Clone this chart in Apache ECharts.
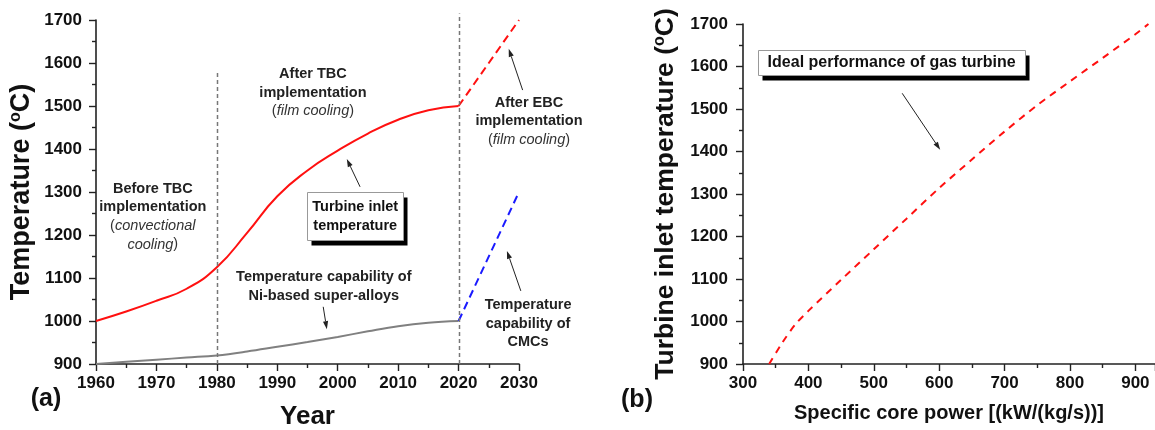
<!DOCTYPE html>
<html>
<head>
<meta charset="utf-8">
<script src="https://cdn.jsdelivr.net/npm/echarts@6/dist/echarts.min.js"></script>
<style>
  html, body { margin: 0; padding: 0; background: #fff; }
  #chart { width: 1155px; height: 430px; }
</style>
</head>
<body>
<div id="chart"></div>
<script>
// ---- Panel (a): turbine inlet temperature and material capability by year ----
const years = [1960, 1965, 1970, 1975, 1980, 1985, 1990, 1995, 2000, 2005, 2010, 2015, 2020];
const inletTemp = [1000, 1022, 1047, 1075, 1125, 1205, 1290, 1350, 1396, 1436, 1468, 1490, 1500];
const alloyTemp = [900, 905, 910, 915, 920, 929, 940, 951, 963, 976, 988, 996, 1000];
const outlookYears = [2020, 2030];
const inletTempEBC = [1500, 1700];
const cmcTemp = [1000, 1300];
// era boundaries (year, top of the dashed divider)
const eraYears = [1980, 2020];
const eraTop = [1580, 1715];

// ---- Panel (b): ideal turbine inlet temperature vs specific core power ----
const corePower = [340, 360, 380, 400, 450, 500, 550, 600, 650, 700, 750, 800, 850, 900, 920];
const idealTemp = [900, 950, 993, 1025, 1098, 1170, 1242, 1314, 1381, 1447, 1509, 1565, 1620, 1676, 1700];

// axis ranges: [min, max, step]
const yearRange = [1960, 2030, 10];
const tempRangeA = [900, 1700, 100];
const powerRange = [300, 930, 100];
const tempRangeB = [900, 1700, 100];

const FONT = '"Liberation Sans", Arial, sans-serif';
const INK = '#111';

const zip = (xs, ys) => xs.map((x, i) => [x, ys[i]]);

function axisBase(range, labelMargin) {
  return {
    type: 'value',
    min: range[0], max: range[1], interval: range[2],
    axisLine: { show: true, onZero: false, lineStyle: { color: '#222', width: 1.6 } },
    axisTick: { show: true, inside: false, length: 7, lineStyle: { color: '#222', width: 1.4 } },
    minorTick: { show: true, splitNumber: 2, length: 4, lineStyle: { color: '#222', width: 1.4 } },
    splitLine: { show: false },
    minorSplitLine: { show: false },
    axisLabel: {
      margin: labelMargin, color: INK, fontSize: 17, fontWeight: 'bold', fontFamily: FONT,
      formatter: v => (v % range[2] === 0 ? String(v) : '')
    }
  };
}

function nameStyle(size) {
  return {
    fontSize: size, fontWeight: 'bold', color: INK, fontFamily: FONT,
    rich: { s: { fontSize: Math.round(size * 0.6), fontWeight: 'bold', color: INK, fontFamily: FONT, verticalAlign: 'top' } }
  };
}

// annotation arrows in data coordinates: [from, to]
const arrowsA = [
  [[2030.6, 1537], [2028.3, 1633]],   // after EBC
  [[2003.7, 1312], [2001.5, 1377]],   // turbine inlet temperature
  [[1997.6, 1033], [1998.2, 981]],    // Ni-based super-alloys
  [[2030.3, 1070], [2028.0, 1163]]    // CMCs
];
const arrowsB = [
  [[543.4, 1537], [601.5, 1404]]      // ideal performance
];

const chart = echarts.init(document.getElementById('chart'), null, { renderer: 'canvas' });

const option = {
  backgroundColor: '#fff',
  animation: false,
  grid: [
    { left: 96, top: 20, width: 423, height: 344, containLabel: false, outerBoundsMode: 'none' },
    { left: 743, top: 24, width: 412, height: 340, containLabel: false, outerBoundsMode: 'none' }
  ],
  xAxis: [
    Object.assign(axisBase(yearRange, 11), {
      gridIndex: 0, name: 'Year', nameLocation: 'middle', nameGap: 40, nameTextStyle: nameStyle(26)
    }),
    Object.assign(axisBase(powerRange, 11), {
      gridIndex: 1, name: 'Specific core power [(kW/(kg/s))]', nameLocation: 'middle', nameGap: 39,
      nameTextStyle: nameStyle(20)
    })
  ],
  yAxis: [
    Object.assign(axisBase(tempRangeA, 14), {
      gridIndex: 0, name: 'Temperature ({s|o}C)', nameLocation: 'middle', nameGap: 61, nameTextStyle: nameStyle(27)
    }),
    Object.assign(axisBase(tempRangeB, 15), {
      gridIndex: 1, name: 'Turbine inlet temperature ({s|o}C)', nameLocation: 'middle', nameGap: 64,
      nameTextStyle: nameStyle(26.5)
    })
  ],
  series: [
    {
      name: 'Turbine inlet temperature', type: 'line', xAxisIndex: 0, yAxisIndex: 0,
      data: zip(years, inletTemp), smooth: 0.5, showSymbol: false,
      lineStyle: { color: '#ff1010', width: 2 }
    },
    {
      name: 'Ni-based super-alloys', type: 'line', xAxisIndex: 0, yAxisIndex: 0,
      data: zip(years, alloyTemp), smooth: 0.4, showSymbol: false,
      lineStyle: { color: '#808080', width: 2 }
    },
    {
      name: 'After EBC', type: 'line', xAxisIndex: 0, yAxisIndex: 0,
      data: zip(outlookYears, inletTempEBC), showSymbol: false,
      lineStyle: { color: '#ff1010', width: 2, type: [8, 5] }
    },
    {
      name: 'CMCs', type: 'line', xAxisIndex: 0, yAxisIndex: 0,
      data: zip(outlookYears, cmcTemp), showSymbol: false,
      lineStyle: { color: '#1a1aff', width: 2, type: [8, 5] }
    },
    {
      name: 'Ideal performance of gas turbine', type: 'line', xAxisIndex: 1, yAxisIndex: 1,
      data: zip(corePower, idealTemp), smooth: 0.3, showSymbol: false,
      lineStyle: { color: '#ff1010', width: 2, type: [7, 6] }
    }
  ]
};

chart.setOption(option);

// ---- overlays: dividers, arrows and text, anchored in data coordinates ----
const toPx = (grid, p) => chart.convertToPixel({ gridIndex: grid }, p);
const graphics = [];

// dashed era dividers
eraYears.forEach((yr, i) => {
  const a = toPx(0, [yr, tempRangeA[0]]);
  const b = toPx(0, [yr, eraTop[i]]);
  graphics.push({
    type: 'line', silent: true, z: 5,
    shape: { x1: Math.round(a[0]) + 0.5, y1: a[1], x2: Math.round(b[0]) + 0.5, y2: b[1] },
    style: { stroke: '#777', lineWidth: 1.5, lineDash: [4, 3] }
  });
});

function pushArrow(grid, from, to) {
  const a = toPx(grid, from), b = toPx(grid, to);
  const dx = b[0] - a[0], dy = b[1] - a[1];
  const len = Math.hypot(dx, dy), ux = dx / len, uy = dy / len;
  const L = 8, W = 2.6;
  const bx = b[0] - ux * L, by = b[1] - uy * L;
  graphics.push({
    type: 'line', silent: true, z: 6,
    shape: { x1: a[0], y1: a[1], x2: bx, y2: by },
    style: { stroke: '#222', lineWidth: 1 }
  });
  graphics.push({
    type: 'polygon', silent: true, z: 6,
    shape: { points: [[b[0], b[1]], [bx - uy * W, by + ux * W], [bx + uy * W, by - ux * W]] },
    style: { fill: '#222' }
  });
}
arrowsA.forEach(([f, t]) => pushArrow(0, f, t));
arrowsB.forEach(([f, t]) => pushArrow(1, f, t));

const RICH = {
  b: { fontSize: 14.5, fontWeight: 'bold', fill: '#222', fontFamily: FONT },
  i: { fontSize: 14.5, fontStyle: 'italic', fill: '#333', fontFamily: FONT },
  p: { fontSize: 14.5, fill: '#333', fontFamily: FONT }
};
const LINE_H = 18.5;

const notesA = [
  { at: [1969.4, 1307], lines: ['{b|Before TBC}', '{b|implementation}', '{p|(}{i|convectional}', '{i|cooling}{p|)}'] },
  { at: [1995.9, 1574], lines: ['{b|After TBC}', '{b|implementation}', '{p|(}{i|film cooling}{p|)}'] },
  { at: [2031.65, 1507], lines: ['{b|After EBC}', '{b|implementation}', '{p|(}{i|film cooling}{p|)}'] },
  { at: [1997.7, 1102], lines: ['{b|Temperature capability of}', '{b|Ni-based super-alloys}'] },
  { at: [2031.5, 1037], lines: ['{b|Temperature}', '{b|capability of}', '{b|CMCs}'] }
];

// boxed labels with a drop shadow: center in data coords, size in px
const boxes = [
  { grid: 0, at: [2002.9, 1244], w: 96, h: 48, lines: ['Turbine inlet', 'temperature'], size: 14.5, lh: 19 },
  { grid: 1, at: [527.3, 1609], w: 267, h: 25, lines: ['Ideal performance of gas turbine'], size: 16, lh: 19 }
];

notesA.forEach(n => {
  const [px, py] = toPx(0, n.at);
  n.lines.forEach((t, k) => {
    graphics.push({
      type: 'text', silent: true, z: 10,
      style: { text: t, x: px, y: py + k * LINE_H, align: 'center', verticalAlign: 'middle', rich: RICH }
    });
  });
});

boxes.forEach(b => {
  const [cx, cy] = toPx(b.grid, b.at);
  const x0 = Math.round(cx - b.w / 2) + 0.5, y0 = Math.round(cy - b.h / 2) + 0.5;
  graphics.push({ type: 'rect', silent: true, z: 10, shape: { x: x0 + 4, y: y0 + 5, width: b.w, height: b.h }, style: { fill: '#000' } });
  graphics.push({ type: 'rect', silent: true, z: 11, shape: { x: x0, y: y0, width: b.w, height: b.h }, style: { fill: '#fff', stroke: '#999', lineWidth: 1 } });
  b.lines.forEach((t, k) => {
    graphics.push({
      type: 'text', silent: true, z: 12,
      style: {
        text: t, x: cx, y: cy + (k - (b.lines.length - 1) / 2) * b.lh, align: 'center', verticalAlign: 'middle',
        fontSize: b.size, fontWeight: 'bold', fontFamily: FONT, fill: '#111'
      }
    });
  });
});

// panel letters
graphics.push({ type: 'text', silent: true, style: { text: '(a)', x: 46, y: 399, align: 'center', verticalAlign: 'middle', fontSize: 25, fontWeight: 'bold', fontFamily: FONT, fill: '#111' } });
graphics.push({ type: 'text', silent: true, style: { text: '(b)', x: 637, y: 400, align: 'center', verticalAlign: 'middle', fontSize: 25, fontWeight: 'bold', fontFamily: FONT, fill: '#111' } });

chart.setOption({ graphic: graphics });
</script>
</body>
</html>
